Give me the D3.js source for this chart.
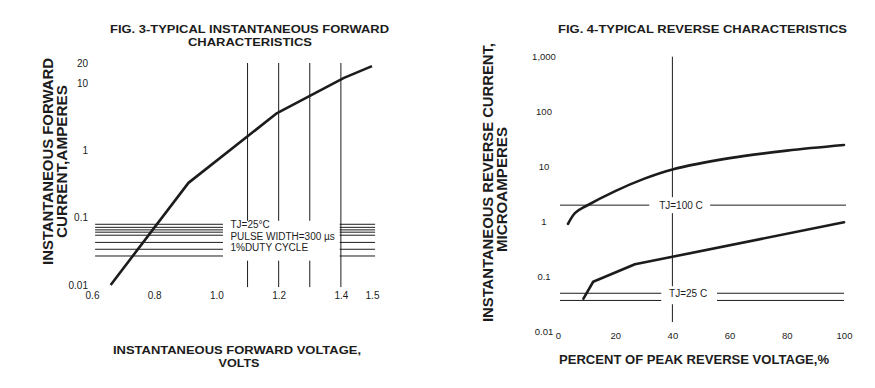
<!DOCTYPE html>
<html><head><meta charset="utf-8">
<script src="https://cdn.jsdelivr.net/npm/d3@7"></script>
<style>
html,body{margin:0;padding:0;background:#fff;}
svg{display:block;font-family:"Liberation Sans",Arial,sans-serif;}
</style></head>
<body><svg id="c" width="875" height="388"></svg>
<script>
// ---------- Fig. 3 data ----------
const fwdXTicks = [0.6, 0.8, 1.0, 1.2, 1.4, 1.5];
const fwdXTickLabels = ["0.6", "0.8", "1.0", "1.2", "1.4", "1.5"];
const fwdYTicks = [0.01, 0.1, 1, 10, 20];
const fwdYTickLabels = ["0.01", "0.1", "1", "10", "20"];
const fwdVoltage = [0.66, 0.91, 1.195, 1.41, 1.5];
const fwdCurrent = [0.01, 0.33, 3.6, 12, 18];
const fwdGridV = [1.1, 1.2, 1.3];
const fwdGridVFull = [1.4];
const fwdGridH = [0.08, 0.072, 0.066, 0.061, 0.055, 0.043, 0.034, 0.027];
const fwdNotes = ["TJ=25\u00B0C", "PULSE WIDTH=300 \u00B5s", "1%DUTY CYCLE"];

// ---------- Fig. 4 data ----------
const revXTicks = [0, 20, 40, 60, 80, 100];
const revXTickLabels = ["0", "20", "40", "60", "80", "100"];
const revYTicks = [0.01, 0.1, 1, 10, 100, 1000];
const revYTickLabels = ["0.01", "0.1", "1", "10", "100", "1,000"];
const rev100Pct = [3.5, 6, 10, 20, 30, 40, 60, 80, 100];
const rev100Cur = [0.91, 1.45, 1.95, 3.6, 6.0, 8.9, 14.3, 19.6, 24.8];
const rev25Pct = [8.9, 12.3, 26.9, 40, 100];
const rev25Cur = [0.04, 0.081, 0.168, 0.23, 0.975];
const rev100Line = [2];
const rev25Lines = [0.05, 0.037];
const revGridV = [40];

const svg = d3.select("#c");
const ink = "#1c1c1c";

// ================= LEFT CHART =================
const xL = d3.scaleLinear().domain([0.6, 1.5]).range([92, 372]);
const yL = d3.scaleLog().domain([0.01, 20]).range([285, 63]);
const gL = svg.append("g");

fwdGridH.forEach(v => {
  gL.append("line").attr("x1", xL(0.61)).attr("x2", xL(1.021))
    .attr("y1", yL(v)).attr("y2", yL(v)).attr("stroke", ink).attr("stroke-width", 1);
  gL.append("line").attr("x1", xL(1.396)).attr("x2", xL(1.51))
    .attr("y1", yL(v)).attr("y2", yL(v)).attr("stroke", ink).attr("stroke-width", 1);
});
fwdGridV.forEach(v => {
  gL.append("line").attr("x1", xL(v)).attr("x2", xL(v)).attr("y1", yL(20)).attr("y2", yL(0.09))
    .attr("stroke", ink).attr("stroke-width", 1);
  gL.append("line").attr("x1", xL(v)).attr("x2", xL(v)).attr("y1", yL(0.023)).attr("y2", yL(0.0093))
    .attr("stroke", ink).attr("stroke-width", 1);
});
fwdGridVFull.forEach(v => {
  gL.append("line").attr("x1", xL(v)).attr("x2", xL(v)).attr("y1", yL(20)).attr("y2", yL(0.0093))
    .attr("stroke", ink).attr("stroke-width", 1);
});
fwdNotes.forEach((t, i) => {
  gL.append("text").attr("x", xL(1.045)).attr("y", [224.5, 236, 247][i])
    .attr("dominant-baseline", "central").attr("font-size", 10).attr("fill", ink).text(t);
});
const fwdData = fwdVoltage.map((v, i) => [v, fwdCurrent[i]]);
gL.append("path").datum(fwdData)
  .attr("d", d3.line().x(d => xL(d[0])).y(d => yL(d[1])))
  .attr("fill", "none").attr("stroke", ink).attr("stroke-width", 2.6).attr("stroke-linejoin", "round");

const axXL = d3.axisBottom(xL).tickValues(fwdXTicks).tickFormat((d, i) => fwdXTickLabels[i]).tickSize(0);
const gxL = gL.append("g").attr("transform", "translate(0,291)").call(axXL);
gxL.select(".domain").remove();
gxL.selectAll("text").attr("font-size", 10).attr("fill", ink).attr("font-family", "Liberation Sans, Arial, sans-serif").attr("dy", "0.45em");
const axYL = d3.axisLeft(yL).tickValues(fwdYTicks).tickFormat((d, i) => fwdYTickLabels[i]).tickSize(0);
const gyL = gL.append("g").attr("transform", "translate(91,0)").call(axYL);
gyL.select(".domain").remove();
gyL.selectAll("text").attr("font-size", 10).attr("fill", ink).attr("font-family", "Liberation Sans, Arial, sans-serif");

function boldText(g, x, y, txt, size, len, rot) {
  const t = g.append("text").attr("text-anchor", "middle").attr("font-weight", "bold")
    .attr("font-size", size).attr("fill", ink)
    .attr("textLength", len).attr("lengthAdjust", "spacingAndGlyphs").text(txt);
  if (rot) t.attr("transform", `translate(${x},${y}) rotate(-90)`);
  else t.attr("x", x).attr("y", y);
  return t;
}
boldText(gL, 249.5, 33.3, "FIG. 3-TYPICAL INSTANTANEOUS FORWARD", 11.5, 279);
boldText(gL, 250, 46, "CHARACTERISTICS", 11.5, 124);
boldText(gL, 237, 353.5, "INSTANTANEOUS FORWARD VOLTAGE,", 11, 248);
boldText(gL, 239, 366.5, "VOLTS", 11, 41);
boldText(gL, 53, 161.5, "INSTANTANEOUS FORWARD", 14.5, 207, true);
boldText(gL, 66.5, 161.5, "CURRENT,AMPERES", 14.5, 153, true);

// ================= RIGHT CHART =================
const xR = d3.scaleLinear().domain([0, 100]).range([558, 844]);
const yR = d3.scaleLog().domain([0.01, 1000]).range([331.7, 56.7]);
const gR = svg.append("g");

revGridV.forEach(v => {
  gR.append("line").attr("x1", xR(v)).attr("x2", xR(v)).attr("y1", yR(1000)).attr("y2", yR(0.015))
    .attr("stroke", ink).attr("stroke-width", 1);
});
rev100Line.forEach(v => {
  gR.append("line").attr("x1", xR(0.7)).attr("x2", xR(100.7)).attr("y1", yR(v)).attr("y2", yR(v))
    .attr("stroke", ink).attr("stroke-width", 1);
});
rev25Lines.forEach(v => {
  gR.append("line").attr("x1", xR(0.7)).attr("x2", xR(100)).attr("y1", yR(v)).attr("y2", yR(v))
    .attr("stroke", ink).attr("stroke-width", 1);
});
gR.append("rect").attr("x", xR(31.9)).attr("width", xR(53.2) - xR(31.9))
  .attr("y", yR(rev100Line[0]) - 8).attr("height", 16).attr("fill", "#fff");
gR.append("text").attr("x", xR(43)).attr("y", yR(rev100Line[0])).attr("text-anchor", "middle")
  .attr("dominant-baseline", "central").attr("font-size", 10).attr("fill", ink).text("TJ=100 C");
gR.append("rect").attr("x", xR(36.1)).attr("width", xR(55.6) - xR(36.1))
  .attr("y", yR(rev25Lines[0]) - 7).attr("height", 18).attr("fill", "#fff");
gR.append("text").attr("x", xR(45.5)).attr("y", yR(rev25Lines[0])).attr("text-anchor", "middle")
  .attr("dominant-baseline", "central").attr("font-size", 10).attr("fill", ink).text("TJ=25 C");

const r100 = rev100Pct.map((p, i) => [p, rev100Cur[i]]);
const r25 = rev25Pct.map((p, i) => [p, rev25Cur[i]]);
gR.append("path").datum(r100)
  .attr("d", d3.line().curve(d3.curveCatmullRom.alpha(0.5)).x(d => xR(d[0])).y(d => yR(d[1])))
  .attr("fill", "none").attr("stroke", ink).attr("stroke-width", 2.6).attr("stroke-linecap", "round");
gR.append("path").datum(r25)
  .attr("d", d3.line().x(d => xR(d[0])).y(d => yR(d[1])))
  .attr("fill", "none").attr("stroke", ink).attr("stroke-width", 2.6).attr("stroke-linejoin", "round").attr("stroke-linecap", "round");

const axXR = d3.axisBottom(xR).tickValues(revXTicks).tickFormat((d, i) => revXTickLabels[i]).tickSize(0);
const gxR = gR.append("g").attr("transform", "translate(0,332)").call(axXR);
gxR.select(".domain").remove();
gxR.selectAll("text").attr("font-size", 9.5).attr("fill", ink).attr("font-family", "Liberation Sans, Arial, sans-serif").attr("dy", "0.45em");
const axYR = d3.axisLeft(yR).tickValues(revYTicks).tickFormat((d, i) => revYTickLabels[i]).tickSize(0);
const gyR = gR.append("g").attr("transform", "translate(544,0)").call(axYR);
gyR.select(".domain").remove();
gyR.selectAll("text").attr("font-size", 9.5).attr("fill", ink).attr("x", 0).attr("text-anchor", "middle").attr("font-family", "Liberation Sans, Arial, sans-serif");

boldText(gR, 702.5, 33.3, "FIG. 4-TYPICAL REVERSE CHARACTERISTICS", 11.5, 289);
boldText(gR, 694, 364, "PERCENT OF PEAK REVERSE VOLTAGE,%", 12, 270);
boldText(gR, 493, 182.5, "INSTANTANEOUS REVERSE CURRENT,", 14.5, 279, true);
boldText(gR, 507, 189.5, "MICROAMPERES", 14.5, 125, true);
</script></body></html>
